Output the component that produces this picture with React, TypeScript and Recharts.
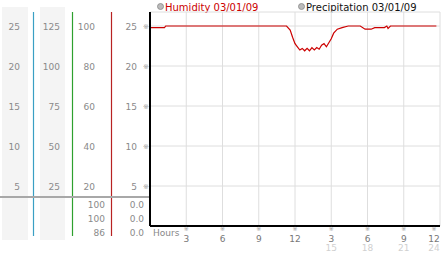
import React from "react";
import { LineChart, Line, XAxis, YAxis, CartesianGrid } from "recharts";

// humidity readings, hour of day -> value
const hours = [0, 1.2, 1.3, 11.3, 11.6, 11.8, 12.0, 12.2, 12.4, 12.6, 12.8, 13.0, 13.2, 13.4, 13.6, 13.8, 14.0, 14.2, 14.4, 14.6, 14.8, 15.0, 15.2, 15.5, 15.9, 16.4, 17.4, 17.8, 18.3, 18.6, 19.4, 19.6, 19.7, 19.9, 23.7];
const humidity = [24.8, 24.8, 25.0, 25.0, 24.5, 23.6, 22.8, 22.4, 22.0, 22.2, 21.9, 22.2, 21.9, 22.3, 22.0, 22.3, 22.1, 22.6, 22.8, 22.4, 22.9, 23.4, 24.1, 24.6, 24.8, 25.0, 25.0, 24.6, 24.6, 24.8, 24.8, 25.0, 24.7, 25.0, 25.0];

const yTicks = [5, 10, 15, 20, 25];
const col1Labels = ["5", "10", "15", "20", "25"];
const col2Labels = ["25", "50", "75", "100", "125"];
const col3Labels = ["20", "40", "60", "80", "100"];
const col4Labels = ["5", "10", "15", "20", "25"];

const xTicks = [3, 6, 9, 12, 15, 18, 21, 24];
const xLabels = ["3", "6", "9", "12", "3", "6", "9", "12"];
const xLabels2 = ["", "", "", "", "15", "18", "21", "24"];

const col3Bottom = ["100", "100", "86"];
const col4Bottom = ["0.0", "0.0", "0.0"];

const legendItems = [
  { name: "Humidity 03/01/09", color: "#cc0000" },
  { name: "Precipitation 03/01/09", color: "#111111" },
];

const data = hours.map((h, i) => ({ h, v: humidity[i] }));
const FONT = "'DejaVu Sans', Verdana, sans-serif";

function YTick({ y, payload }: any) {
  const i = yTicks.indexOf(payload.value);
  const s = { fontSize: 9, fill: "#8a8a8a", fontFamily: FONT } as const;
  return (
    <g>
      <text x={20} y={y + 3.5} textAnchor="end" {...s}>{col1Labels[i]}</text>
      <text x={60} y={y + 3.5} textAnchor="end" {...s}>{col2Labels[i]}</text>
      <text x={95} y={y + 3.5} textAnchor="end" {...s}>{col3Labels[i]}</text>
      <text x={137} y={y + 3.5} textAnchor="end" {...s}>{col4Labels[i]}</text>
      <text x={146} y={y + 2.5} textAnchor="middle" fontSize={7} fill="#999" fontFamily={FONT}>※</text>
    </g>
  );
}

function XTick({ x, payload }: any) {
  const i = xTicks.indexOf(payload.value);
  const cx = i === xTicks.length - 1 ? x - 6 : x;
  return (
    <g>
      <text x={cx} y={231} textAnchor="middle" fontSize={6} fill="#999" fontFamily={FONT}>※</text>
      <text x={cx} y={242} textAnchor="middle" fontSize={9} fill="#777" fontFamily={FONT}>{xLabels[i]}</text>
      <text x={cx} y={251} textAnchor="middle" fontSize={9} fill="#d0d0d0" fontFamily={FONT}>{xLabels2[i]}</text>
    </g>
  );
}

export default function App() {
  return (
    <div style={{ position: "absolute", left: 0, top: 0, width: 442, height: 253, background: "#fff" }}>
      <svg width={442} height={253} style={{ position: "absolute", left: 0, top: 0 }}>
        <rect x={2} y={7} width={26} height={233} fill="#f4f4f4" />
        <rect x={40} y={7} width={25} height={233} fill="#f4f4f4" />
        <line x1={33.5} x2={33.5} y1={12} y2={236} stroke="#3a9fc4" strokeWidth={1.2} />
        <line x1={72.5} x2={72.5} y1={12} y2={236} stroke="#2ea02e" strokeWidth={1.2} />
        <line x1={111.5} x2={111.5} y1={12} y2={236} stroke="#b82222" strokeWidth={1.2} />
        <line x1={0} x2={150} y1={197} y2={197} stroke="#a8a8a8" strokeWidth={2} />
        {col3Bottom.map((t, i) => (
          <text key={"a" + i} x={105} y={207.5 + i * 14} textAnchor="end" fontSize={9} fill="#8a8a8a" fontFamily={FONT}>{t}</text>
        ))}
        {col4Bottom.map((t, i) => (
          <text key={"b" + i} x={144} y={207.5 + i * 14} textAnchor="end" fontSize={9} fill="#8a8a8a" fontFamily={FONT}>{t}</text>
        ))}
        <text x={153} y={236} fontSize={9} fill="#888" fontFamily={FONT}>Hours</text>
        {legendItems.map((it, i) => {
          const lx = i === 0 ? 160.5 : 301.5;
          return (
            <g key={it.name}>
              <circle cx={lx} cy={6.5} r={3} fill="#bbb" stroke="#888" strokeWidth={0.8} />
              <text x={lx + 4.5} y={10.5} fontSize={10} fill={it.color} fontFamily={FONT}>{it.name}</text>
            </g>
          );
        })}
      </svg>
      <div style={{ position: "absolute", left: 0, top: 0 }}>
        <LineChart width={442} height={253} data={data} margin={{ top: 12, right: 2, bottom: 0, left: 0 }}>
          <CartesianGrid stroke="#dedede" strokeWidth={1} />
          <XAxis
            dataKey="h"
            type="number"
            domain={[0, 24]}
            ticks={xTicks}
            height={27}
            tick={<XTick />}
            tickLine={false}
            axisLine={{ stroke: "#000", strokeWidth: 2 }}
            interval={0}
          />
          <YAxis
            type="number"
            domain={[0, 26.75]}
            ticks={yTicks}
            width={150}
            allowDataOverflow
            tick={<YTick />}
            tickLine={false}
            axisLine={{ stroke: "#000", strokeWidth: 2 }}
            interval={0}
          />
          <Line
            dataKey="v"
            type="linear"
            stroke="#cc0000"
            strokeWidth={1.2}
            dot={false}
            isAnimationActive={false}
          />
        </LineChart>
      </div>
    </div>
  );
}
